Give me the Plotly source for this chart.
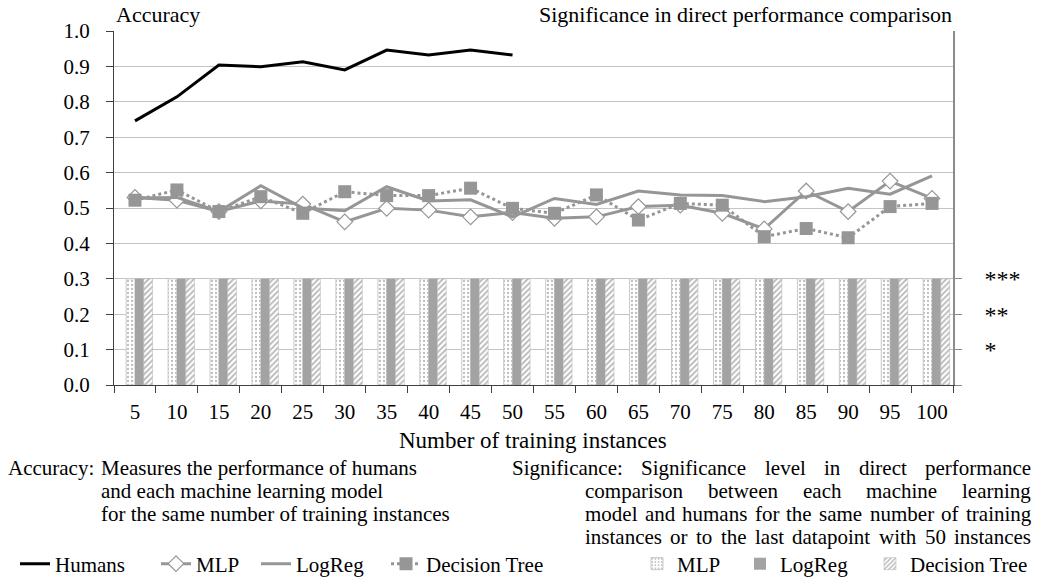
import plotly.graph_objects as go

# Number of training instances (category axis)
instances = ["5", "10", "15", "20", "25", "30", "35", "40", "45", "50",
             "55", "60", "65", "70", "75", "80", "85", "90", "95", "100"]

# Accuracy per model
humans = [0.746, 0.814, 0.904, 0.899, 0.913, 0.890, 0.946, 0.932, 0.946, 0.932]
mlp = [0.530, 0.522, 0.490, 0.520, 0.511, 0.461, 0.499, 0.494, 0.475, 0.487,
       0.471, 0.475, 0.504, 0.508, 0.485, 0.441, 0.548, 0.490, 0.576, 0.527]
logreg = [0.528, 0.530, 0.490, 0.563, 0.500, 0.492, 0.560, 0.520, 0.523, 0.475,
          0.527, 0.510, 0.548, 0.537, 0.535, 0.518, 0.532, 0.556, 0.539, 0.591]
tree = [0.522, 0.551, 0.490, 0.532, 0.485, 0.546, 0.535, 0.535, 0.556, 0.499,
        0.485, 0.537, 0.466, 0.513, 0.508, 0.419, 0.442, 0.416, 0.504, 0.513]

# Significance level (number of stars) vs. humans
sig_mlp = [3, 3, 3, 3, 3, 3, 3, 3, 3, 3, 3, 3, 3, 3, 3, 3, 3, 3, 3, 3]
sig_logreg = [3, 3, 3, 3, 3, 3, 3, 3, 3, 3, 3, 3, 3, 3, 3, 3, 3, 3, 3, 3]
sig_tree = [3, 3, 3, 3, 3, 3, 3, 3, 3, 3, 3, 3, 3, 3, 3, 3, 3, 3, 3, 3]
sig_labels = ["", "*", "**", "***"]

FONT = "Liberation Serif"
GRAY = "#969696"
W, H = 1039, 579
ML, MR, MT, MB = 114, 86, 31, 194
PW, PH = W - ML - MR, H - MT - MB


def px(x):
    return (x - ML) / PW


def py(y):
    return (H - MB - y) / PH


def fnt(size):
    return dict(family=FONT, size=size, color="black")


fig = go.Figure()

# significance bars (right axis, in stars)
bar_w = 0.21
fig.add_trace(go.Bar(
    x=instances, y=sig_mlp, name="MLP", yaxis="y2", legend="legend5",
    width=bar_w, offset=-bar_w,
    marker=dict(color="white", line=dict(color="#c8c8c8", width=1),
                pattern=dict(shape=".", fgcolor="#7a7a7a", bgcolor="white",
                             size=4, solidity=0.25)),
))
fig.add_trace(go.Bar(
    x=instances, y=sig_logreg, name="LogReg", yaxis="y2", legend="legend6",
    width=bar_w, offset=0,
    marker=dict(color="#a3a3a3", line=dict(width=0)),
))
fig.add_trace(go.Bar(
    x=instances, y=sig_tree, name="Decision Tree", yaxis="y2", legend="legend7",
    width=bar_w, offset=bar_w,
    marker=dict(color="white", line=dict(color="#b0b0b0", width=0.5),
                pattern=dict(shape="/", fgcolor="#6e6e6e", bgcolor="white",
                             size=4, solidity=0.45)),
))

# accuracy lines (left axis)
fig.add_trace(go.Scatter(
    x=instances[:len(humans)], y=humans, name="Humans", mode="lines",
    legend="legend", line=dict(color="black", width=3),
))
fig.add_trace(go.Scatter(
    x=instances, y=mlp, name="MLP", mode="lines+markers", legend="legend2",
    line=dict(color=GRAY, width=3),
    marker=dict(symbol="diamond", size=12, color="white",
                line=dict(color=GRAY, width=1.2)),
))
fig.add_trace(go.Scatter(
    x=instances, y=logreg, name="LogReg", mode="lines", legend="legend3",
    line=dict(color=GRAY, width=3),
))
fig.add_trace(go.Scatter(
    x=instances, y=tree, name="Decision Tree", mode="lines+markers",
    legend="legend4",
    line=dict(color=GRAY, width=3, dash="dot"),
    marker=dict(symbol="square", size=13, color=GRAY),
))

# text annotations
ann = []
ann.append(dict(text="Accuracy", x=px(114), y=py(14), xanchor="left",
                yanchor="middle", font=fnt(22)))
ann.append(dict(text="Significance in direct performance comparison",
                x=px(954), y=py(14), xanchor="right", yanchor="middle",
                font=fnt(22)))
ann.append(dict(text="Number of training instances", x=px(533), y=py(440),
                xanchor="center", yanchor="middle", font=fnt(23)))

TXT = 21
ann.append(dict(text="Accuracy:", x=px(6), y=py(468), xanchor="left",
                yanchor="middle", font=fnt(TXT)))
acc_lines = ["Measures the performance of humans",
             "and each machine learning model",
             "for the same number of training instances"]
for i, line in enumerate(acc_lines):
    ann.append(dict(text=line, x=px(99), y=py(468 + 23 * i), xanchor="left",
                    yanchor="middle", font=fnt(TXT)))

# Times-compatible advance widths (1/1000 em) used to justify the text block
ADV = dict(a=444, b=500, c=444, d=500, e=444, f=333, g=500, h=500, i=278,
           j=278, k=500, l=278, m=778, n=500, o=500, p=500, q=500, r=333,
           s=389, t=278, u=500, v=500, w=722, x=500, y=500, z=444, S=556)
ADV[":"] = 278
for dgt in "0123456789":
    ADV[dgt] = 500


def word_width(word, size):
    return sum(ADV.get(ch, 500) for ch in word) * size / 1000


def justified(words, x0, x1, yc, size):
    widths = [word_width(wd, size) for wd in words]
    gap = (x1 - x0 - sum(widths)) / (len(words) - 1)
    gap = max(gap, 0.25 * size)
    out = []
    x = x0
    for wd, wdt in zip(words, widths):
        out.append(dict(text=wd, x=px(x), y=py(yc), xanchor="left",
                        yanchor="middle", font=fnt(size), borderpad=0))
        x += wdt + gap
    return out


sig_rows = [
    (["Significance:", "Significance", "level", "in", "direct", "performance"], 511),
    (["comparison", "between", "each", "machine", "learning"], 584),
    (["model", "and", "humans", "for", "the", "same", "number", "of", "training"], 584),
    (["instances", "or", "to", "the", "last", "datapoint", "with", "50", "instances"], 584),
]
for i, (words, x0) in enumerate(sig_rows):
    ann += justified(words, x0, 1030, 468 + 23 * i, TXT)

for a in ann:
    a.update(xref="paper", yref="paper", showarrow=False)

# one legend box per key so each entry sits at its own spot on the bottom row
LEG_Y = 564
legend_text_x = {"legend": 57, "legend2": 198, "legend3": 298, "legend4": 428,
                 "legend5": 679, "legend6": 782, "legend7": 912}
legends = {}
for key, tx in legend_text_x.items():
    legends[key] = dict(orientation="h", x=px(tx - 42), y=py(LEG_Y),
                        xanchor="left", yanchor="middle", font=fnt(TXT),
                        bgcolor="rgba(0,0,0,0)", borderwidth=0)

fig.update_layout(
    width=W, height=H,
    margin=dict(l=ML, r=MR, t=MT, b=MB, pad=0, autoexpand=False),
    paper_bgcolor="white", plot_bgcolor="white",
    font=fnt(20),
    barmode="overlay",
    annotations=ann,
    xaxis=dict(type="category", categoryorder="array", categoryarray=instances,
               range=[-0.5, len(instances) - 0.5], automargin=False,
               showline=True, linecolor="#404040", linewidth=1.2,
               ticks="outside", ticklen=7, tickcolor="#404040",
               tickson="boundaries", showgrid=False, tickangle=0,
               tickfont=fnt(21), ticklabelstandoff=8),
    yaxis=dict(range=[0, 1.0], dtick=0.1, tickformat=".1f", automargin=False,
               showline=True, linecolor="#404040", linewidth=1.2,
               ticks="outside", ticklen=7, tickcolor="#404040",
               showgrid=True, gridcolor="#c4c4c4", gridwidth=1,
               zeroline=False, tickfont=fnt(21), ticklabelstandoff=12),
    yaxis2=dict(overlaying="y", side="right", range=[0, 10], automargin=False,
                tickvals=[0, 1, 2, 3], ticktext=sig_labels,
                showline=True, linecolor="#8c8c8c", linewidth=1.5,
                ticks="outside", ticklen=7, tickcolor="#8c8c8c",
                showgrid=False, zeroline=False,
                tickfont=fnt(24), ticklabelstandoff=18),
    showlegend=True,
    **legends,
)

fig.write_html("out.html")
